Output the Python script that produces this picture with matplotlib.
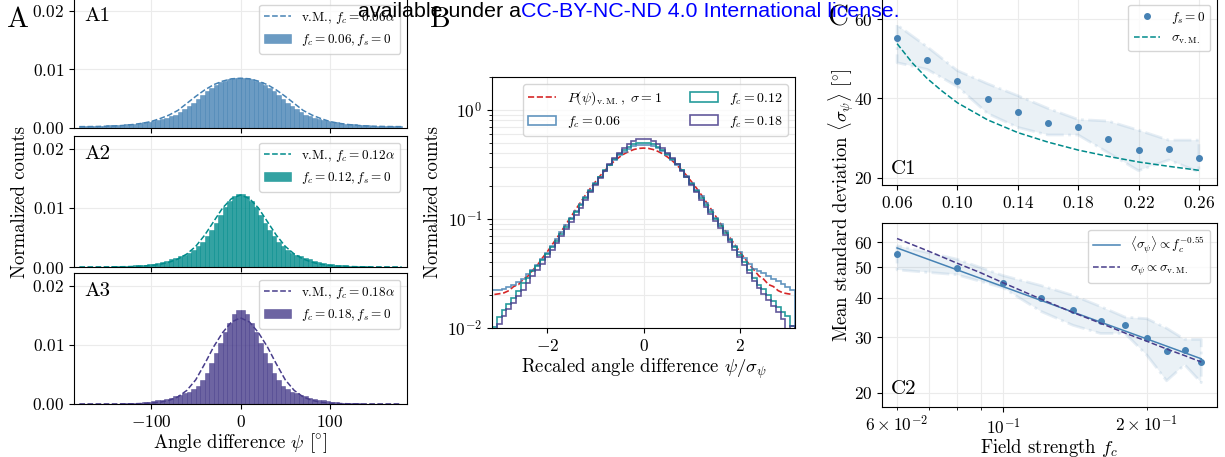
import numpy as np
import matplotlib
matplotlib.use("Agg")
import matplotlib.pyplot as plt
from matplotlib.ticker import ScalarFormatter, NullLocator, NullFormatter

plt.rcParams['font.family'] = 'serif'
plt.rcParams['font.serif'] = ['cmr10']
plt.rcParams['mathtext.fontset'] = 'cm'
plt.rcParams['axes.formatter.use_mathtext'] = True

# ---------------- data ----------------
# panel A : angle difference histograms, 5 deg bins from -180 to 180
psi_edges = np.arange(-180, 181, 5)
psi_centres = psi_edges[:-1] + 2.5
psi_vm = np.arange(-180, 181, 10)

hist_a1 = [0.00031, 0.00033, 0.00034, 0.00036, 0.00038, 0.0004, 0.00043, 0.00046, 0.0005,
           0.00055, 0.0006, 0.00067, 0.00075, 0.00085, 0.00096, 0.0011, 0.0012, 0.0013,
           0.0015, 0.0017, 0.0020, 0.0023, 0.0027, 0.0032, 0.0037, 0.0043, 0.0050, 0.0057,
           0.0063, 0.0069, 0.0074, 0.0078, 0.0081, 0.0083, 0.0085, 0.0086,
           0.0086, 0.0085, 0.0083, 0.0081, 0.0078, 0.0074, 0.0069, 0.0063, 0.0057, 0.0050,
           0.0043, 0.0037, 0.0032, 0.0027, 0.0023, 0.0020, 0.0017, 0.0015, 0.0013, 0.0012,
           0.0011, 0.00095, 0.00085, 0.00075, 0.00068, 0.0006, 0.00055, 0.0005, 0.00046,
           0.00042, 0.0004, 0.00038, 0.00036, 0.00034, 0.00033, 0.00032]
hist_a2 = [0.00004, 0.00004, 0.00005, 0.00005, 0.00006, 0.00007, 0.00008, 0.0001, 0.00012,
           0.00015, 0.00018, 0.00022, 0.00027, 0.00033, 0.0004, 0.00048, 0.00058, 0.00072,
           0.0009, 0.0011, 0.0013, 0.0016, 0.0018, 0.0021, 0.0024, 0.0029, 0.0035, 0.0043,
           0.0052, 0.0063, 0.0075, 0.0088, 0.0101, 0.0112, 0.0120, 0.0124,
           0.0124, 0.0120, 0.0112, 0.0101, 0.0088, 0.0075, 0.0063, 0.0052, 0.0043, 0.0035,
           0.0029, 0.0024, 0.0021, 0.0018, 0.0016, 0.0013, 0.0011, 0.0009, 0.00072, 0.00058,
           0.00048, 0.0004, 0.00033, 0.00027, 0.00022, 0.00018, 0.00015, 0.00012, 0.0001,
           0.00008, 0.00007, 0.00006, 0.00005, 0.00005, 0.00004, 0.00004]
hist_a3 = [0.00002, 0.00002, 0.00002, 0.00003, 0.00003, 0.00004, 0.00005, 0.00006, 0.00007,
           0.00009, 0.00011, 0.00014, 0.00018, 0.00023, 0.0003, 0.00038, 0.00048, 0.0006,
           0.00075, 0.0009, 0.0011, 0.0013, 0.0015, 0.0018, 0.0021, 0.0025, 0.0031, 0.0040,
           0.0053, 0.0069, 0.0086, 0.0104, 0.0122, 0.0138, 0.0153, 0.0160,
           0.0160, 0.0153, 0.0138, 0.0122, 0.0104, 0.0086, 0.0069, 0.0053, 0.0040, 0.0031,
           0.0025, 0.0021, 0.0018, 0.0015, 0.0013, 0.0011, 0.0009, 0.00075, 0.0006, 0.00048,
           0.00038, 0.0003, 0.00023, 0.00018, 0.00014, 0.00011, 0.00009, 0.00007, 0.00006,
           0.00005, 0.00004, 0.00003, 0.00003, 0.00002, 0.00002, 0.00002]

vm_a1 = [0.00023, 0.00024, 0.00026, 0.0003, 0.00035, 0.00045, 0.0006, 0.0008, 0.0011, 0.0016,
         0.0022, 0.0030, 0.0042, 0.0054, 0.0065, 0.0074, 0.0080, 0.0084, 0.0085,
         0.0084, 0.0080, 0.0074, 0.0065, 0.0054, 0.0042, 0.0030, 0.0022, 0.0016, 0.0011,
         0.0008, 0.0006, 0.00045, 0.00035, 0.0003, 0.00026, 0.00024, 0.00023]
vm_a2 = [0.00001, 0.00001, 0.00002, 0.00002, 0.00003, 0.00005, 0.00009, 0.00015, 0.00026, 0.00045,
         0.0008, 0.00135, 0.0022, 0.0035, 0.0054, 0.0077, 0.0100, 0.0116, 0.0122,
         0.0116, 0.0100, 0.0077, 0.0054, 0.0035, 0.0022, 0.00135, 0.0008, 0.00045, 0.00026,
         0.00015, 0.00009, 0.00005, 0.00003, 0.00002, 0.00002, 0.00001, 0.00001]
vm_a3 = [0.00001, 0.00001, 0.00001, 0.00001, 0.00001, 0.00002, 0.00004, 0.00008, 0.00015, 0.0003,
         0.0006, 0.0012, 0.0023, 0.0041, 0.0068, 0.0097, 0.0121, 0.0139, 0.0146,
         0.0139, 0.0121, 0.0097, 0.0068, 0.0041, 0.0023, 0.0012, 0.0006, 0.0003, 0.00015,
         0.00008, 0.00004, 0.00002, 0.00001, 0.00001, 0.00001, 0.00001, 0.00001]

# panel B : rescaled histograms, 0.1 bins from -3.15 to 3.15
rs_edges = np.round(np.arange(-3.15, 3.16, 0.1), 2)
rs_centres = np.round(rs_edges[:-1] + 0.05, 2)

rs_006 = [0.0225, 0.0225, 0.023, 0.024, 0.025, 0.0265, 0.028, 0.031, 0.034, 0.038, 0.043,
          0.049, 0.056, 0.065, 0.076, 0.088, 0.102, 0.119, 0.138, 0.160, 0.185, 0.213,
          0.244, 0.277, 0.312, 0.348, 0.383, 0.415, 0.442, 0.462, 0.475,
          0.480,
          0.476, 0.463, 0.443, 0.416, 0.384, 0.349, 0.313, 0.278, 0.245, 0.214, 0.186,
          0.161, 0.139, 0.120, 0.103, 0.089, 0.077, 0.066, 0.057, 0.050, 0.044, 0.039,
          0.035, 0.033, 0.032, 0.030, 0.028, 0.027, 0.0255, 0.024, 0.0225]
rs_012 = [0.0102, 0.0125, 0.0145, 0.0165, 0.019, 0.022, 0.026, 0.029, 0.033, 0.037, 0.042,
          0.048, 0.055, 0.063, 0.073, 0.085, 0.099, 0.115, 0.134, 0.156, 0.181, 0.210,
          0.243, 0.278, 0.315, 0.353, 0.391, 0.427, 0.458, 0.482, 0.497,
          0.500,
          0.496, 0.482, 0.458, 0.428, 0.392, 0.354, 0.316, 0.279, 0.244, 0.211, 0.182,
          0.157, 0.135, 0.116, 0.100, 0.086, 0.074, 0.064, 0.055, 0.047, 0.040, 0.034,
          0.029, 0.025, 0.023, 0.020, 0.0175, 0.0156, 0.014, 0.0128, 0.0105]
rs_018 = [0.0092, 0.0108, 0.0128, 0.0148, 0.017, 0.0195, 0.0225, 0.026, 0.030, 0.034, 0.039,
          0.045, 0.052, 0.060, 0.070, 0.081, 0.094, 0.109, 0.127, 0.149, 0.175, 0.205,
          0.239, 0.276, 0.317, 0.361, 0.404, 0.447, 0.485, 0.515, 0.535,
          0.540,
          0.535, 0.515, 0.485, 0.448, 0.405, 0.362, 0.318, 0.277, 0.240, 0.206, 0.176,
          0.150, 0.128, 0.110, 0.095, 0.082, 0.071, 0.061, 0.052, 0.045, 0.038, 0.032,
          0.027, 0.0235, 0.0205, 0.018, 0.0158, 0.014, 0.0122, 0.0098, 0.0104]
rs_vm = [0.0203, 0.0206, 0.021, 0.022, 0.024, 0.025, 0.028, 0.030, 0.034, 0.038, 0.044,
         0.050, 0.058, 0.067, 0.078, 0.091, 0.106, 0.124, 0.144, 0.167, 0.192, 0.219,
         0.249, 0.279, 0.310, 0.341, 0.369, 0.395, 0.416, 0.433, 0.443,
         0.446,
         0.443, 0.433, 0.416, 0.395, 0.369, 0.341, 0.310, 0.279, 0.249, 0.219, 0.192,
         0.167, 0.144, 0.124, 0.106, 0.091, 0.078, 0.067, 0.058, 0.050, 0.044, 0.038,
         0.034, 0.030, 0.028, 0.025, 0.024, 0.022, 0.021, 0.0206, 0.0203]

# panel C : mean std vs field strength
fc = [0.06, 0.08, 0.10, 0.12, 0.14, 0.16, 0.18, 0.20, 0.22, 0.24, 0.26]
sig_mean = [55.1, 49.7, 44.4, 39.8, 36.5, 33.8, 32.7, 29.9, 27.0, 27.3, 25.0]
sig_hi = [58.5, 53.0, 47.0, 43.7, 40.7, 37.5, 34.7, 34.3, 32.0, 29.5, 29.5]
sig_lo = [49.0, 47.3, 43.0, 36.2, 32.7, 30.8, 30.8, 26.3, 21.8, 24.5, 21.5]
fc_vm = [0.06, 0.07, 0.08, 0.09, 0.10, 0.12, 0.14, 0.16, 0.18, 0.20, 0.22, 0.24, 0.26]
sig_vm = [53.8, 49.0, 45.0, 41.8, 38.9, 34.6, 31.4, 29.0, 27.0, 25.4, 24.0, 22.9, 21.9]
sig_vm_scaled = [61.6, 56.1, 51.5, 47.9, 44.6, 39.6, 35.9, 33.2, 30.9, 29.1, 27.5, 26.2, 25.0]
fit_fc = [0.06, 0.26]
fit_sig = [57.5, 25.6]

c_blue, c_teal, c_purp = 'steelblue', 'darkcyan', 'darkslateblue'

# ---------------- layout ----------------
W, H = 1225, 457
fig = plt.figure(figsize=(W / 100, H / 100), dpi=100)


def px_rect(x0, y0, x1, y1):
    return [x0 / W, 1 - y1 / H, (x1 - x0) / W, (y1 - y0) / H]


TICK = 12.5
LAB = 13.5
LEG = 9.5
DEG = r'$[\!^\circ\!]$'

#%% ---------------- panel A ----------------
rects_A = [(74, -2, 407, 128), (74, 136, 407, 267), (74, 273, 407, 404)]
specs_A = [(hist_a1, vm_a1, '0.06', c_blue, 'A1'),
           (hist_a2, vm_a2, '0.12', c_teal, 'A2'),
           (hist_a3, vm_a3, '0.18', c_purp, 'A3')]
axes_A = []
for r, (hv, vv, f, col, name) in zip(rects_A, specs_A):
    ax = fig.add_axes(px_rect(*r))
    ax.plot(psi_vm, vv, '--', color=col, lw=1.1, label=r'v.M., $f_c = %s\alpha$' % f)
    ax.hist(psi_centres, bins=psi_edges, weights=hv, color=col, alpha=0.8,
            edgecolor=col, linewidth=0.4, label=r'$f_c = %s, f_s = 0$' % f)
    ax.set_xlim(-186, 186)
    ax.set_ylim(0, 0.0222)
    ax.set_yticks([0, 0.01, 0.02])
    ax.set_xticks([-100, 0, 100])
    ax.grid(True, color='0.92', lw=0.8)
    ax.set_axisbelow(True)
    ax.tick_params(labelsize=TICK)
    ax.legend(loc='upper right', fontsize=LEG, framealpha=0.8)
    ax.text(0.03, 0.93, name, transform=ax.transAxes, fontsize=15, va='top')
    axes_A.append(ax)
axes_A[0].tick_params(labelbottom=False)
axes_A[1].tick_params(labelbottom=False)
axes_A[1].set_ylabel('Normalized counts', fontsize=LAB, labelpad=2)
axes_A[2].set_xlabel(r'Angle difference $\psi$ ' + DEG, fontsize=LAB, labelpad=1)

#%% ---------------- panel B ----------------
axB = fig.add_axes(px_rect(492, 77, 795, 328))
axB.set_yscale('log')
axB.plot(rs_centres, rs_vm, '--', color='C3', lw=1.2,
         label=r'$P(\psi)_{\mathrm{v.M.}},\ \sigma = 1$')
for vals, col, f in [(rs_006, c_blue, '0.06'), (rs_012, c_teal, '0.12'), (rs_018, c_purp, '0.18')]:
    axB.hist(rs_centres, bins=rs_edges, weights=vals, histtype='step', color=col,
             alpha=0.85, lw=1.2, label=r'$f_c = %s$' % f)
axB.set_xlim(-3.15, 3.15)
axB.set_ylim(0.01, 2)
axB.set_xticks([-2, 0, 2])
axB.grid(True, which='major', color='0.92', lw=0.8)
axB.grid(True, which='minor', axis='y', color='0.92', lw=0.8)
axB.set_axisbelow(True)
axB.tick_params(labelsize=TICK)
axB.set_ylabel('Normalized counts', fontsize=LAB)
axB.set_xlabel(r'Recaled angle difference $\psi/\sigma_\psi$', fontsize=LAB, labelpad=2)
axB.legend(loc='upper right', ncol=2, fontsize=10, framealpha=0.8)

#%% ---------------- panel C ----------------
band_face = (70 / 255, 130 / 255, 180 / 255, 0.11)
band_edge = (70 / 255, 130 / 255, 180 / 255, 0.13)

axC1 = fig.add_axes(px_rect(882, -2, 1217, 185))
axC1.fill_between(fc, sig_lo, sig_hi, facecolor=band_face, edgecolor=band_edge,
                  linestyle='-.', lw=2)
axC1.plot(fc, sig_mean, 'o', color=c_blue, ms=4, label=r'$f_s = 0$')
axC1.plot(fc_vm, sig_vm, '--', color=c_teal, lw=1.1, label=r'$\sigma_{\mathrm{v.M.}}$')
axC1.set_xlim(0.05, 0.272)
axC1.set_ylim(18.2, 65.3)
axC1.set_xticks([0.06, 0.10, 0.14, 0.18, 0.22, 0.26])
axC1.set_yticks([20, 40, 60])
axC1.grid(True, color='0.92', lw=0.8)
axC1.set_axisbelow(True)
axC1.tick_params(labelsize=TICK)
axC1.legend(loc='upper right', fontsize=LEG, framealpha=0.8)
axC1.text(0.025, 0.04, 'C1', transform=axC1.transAxes, fontsize=15, va='bottom')

axC2 = fig.add_axes(px_rect(882, 223, 1217, 407))
axC2.set_xscale('log')
axC2.set_yscale('log')
axC2.fill_between(fc, sig_lo, sig_hi, facecolor=band_face, edgecolor=band_edge,
                  linestyle='-.', lw=2)
axC2.plot(fc, sig_mean, 'o', color=c_blue, ms=4)
axC2.plot(fit_fc, fit_sig, '-', color=c_blue, lw=1.1,
          label=r'$\langle\sigma_\psi\rangle \propto f_c^{-0.55}$')
axC2.plot(fc_vm, sig_vm_scaled, '--', color=c_purp, lw=1.1,
          label=r'$\sigma_\psi \propto \sigma_{\mathrm{v.M.}}$')
axC2.set_xlim(0.0558, 0.2805)
axC2.set_ylim(18, 69)
axC2.set_yticks([20, 30, 40, 50, 60])
axC2.yaxis.set_major_formatter(ScalarFormatter())
axC2.yaxis.set_minor_locator(NullLocator())
axC2.yaxis.set_minor_formatter(NullFormatter())
axC2.grid(True, which='both', color='0.92', lw=0.8)
axC2.set_axisbelow(True)
axC2.tick_params(which='both', labelsize=TICK)
axC2.legend(loc='upper right', fontsize=LEG, framealpha=0.8)
axC2.text(0.025, 0.05, 'C2', transform=axC2.transAxes, fontsize=15, va='bottom')
axC2.set_xlabel(r'Field strength $f_c$', fontsize=LAB, labelpad=0)

fig.text(841 / W, 1 - 205 / H, r'Mean standard deviation $\langle\sigma_\psi\rangle$ ' + DEG,
         rotation=90, ha='center', va='center', fontsize=LAB)

# panel letters
fig.text(7 / W, 1 - 27 / H, 'A', fontsize=21, va='baseline')
fig.text(430 / W, 1 - 27 / H, 'B', fontsize=21, va='baseline')
fig.text(827 / W, 1 - 26 / H, 'C', fontsize=21, va='baseline')

# licence banner pasted over the figure
t1 = fig.text(358 / W, 1 - 17 / H, 'available under a', fontsize=15.4,
              family='Liberation Sans', color='black', va='baseline', zorder=20)
fig.canvas.draw()
bb = t1.get_window_extent()
fig.text(bb.x1 / W, 1 - 17 / H, 'CC-BY-NC-ND 4.0 International license.', fontsize=15.4,
         family='Liberation Sans', color='blue', va='baseline', zorder=20)

fig.savefig('out.png', dpi=100)
